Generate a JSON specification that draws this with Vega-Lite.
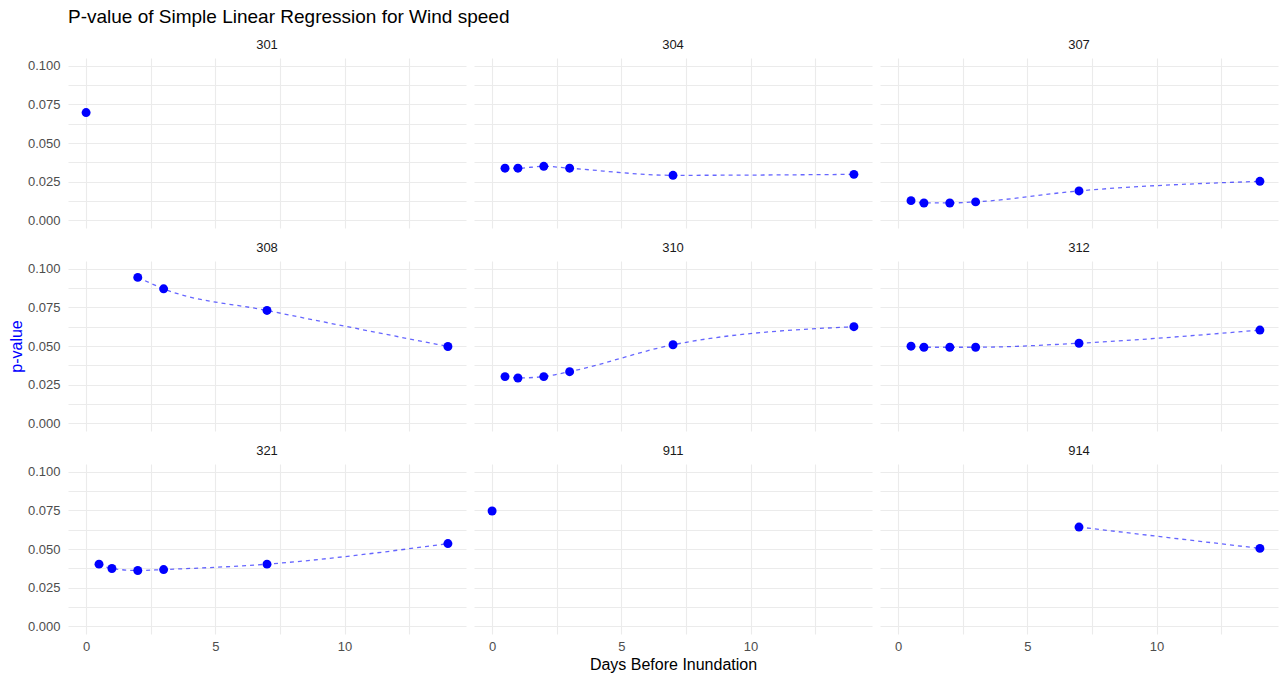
{
  "$schema": "https://vega.github.io/schema/vega-lite/v6.json",
  "background": "white",
  "padding": {"left": 8, "top": 8, "right": 8, "bottom": 4},
  "title": {
    "text": "P-value of Simple Linear Regression for Wind speed",
    "anchor": "start",
    "font": "Liberation Sans",
    "fontSize": 19,
    "fontWeight": "normal",
    "color": "#000000",
    "offset": 12,
    "dx": 0
  },
  "data": {
    "values": [
      {"station": "301", "days": 0, "p": 0.0697},
      {"station": "304", "days": 0.5, "p": 0.0337},
      {"station": "304", "days": 1, "p": 0.0337},
      {"station": "304", "days": 2, "p": 0.0349},
      {"station": "304", "days": 3, "p": 0.0337},
      {"station": "304", "days": 7, "p": 0.0291},
      {"station": "304", "days": 14, "p": 0.0297},
      {"station": "307", "days": 0.5, "p": 0.0127},
      {"station": "307", "days": 1, "p": 0.0112},
      {"station": "307", "days": 2, "p": 0.0112},
      {"station": "307", "days": 3, "p": 0.0119},
      {"station": "307", "days": 7, "p": 0.019},
      {"station": "307", "days": 14, "p": 0.0252},
      {"station": "308", "days": 2, "p": 0.0944},
      {"station": "308", "days": 3, "p": 0.087},
      {"station": "308", "days": 7, "p": 0.073},
      {"station": "308", "days": 14, "p": 0.0497},
      {"station": "310", "days": 0.5, "p": 0.0302},
      {"station": "310", "days": 1, "p": 0.0293},
      {"station": "310", "days": 2, "p": 0.0302},
      {"station": "310", "days": 3, "p": 0.0334},
      {"station": "310", "days": 7, "p": 0.0508},
      {"station": "310", "days": 14, "p": 0.0625},
      {"station": "312", "days": 0.5, "p": 0.0499},
      {"station": "312", "days": 1, "p": 0.0492},
      {"station": "312", "days": 2, "p": 0.0492},
      {"station": "312", "days": 3, "p": 0.0492},
      {"station": "312", "days": 7, "p": 0.0518},
      {"station": "312", "days": 14, "p": 0.0603},
      {"station": "321", "days": 0.5, "p": 0.0402},
      {"station": "321", "days": 1, "p": 0.0374},
      {"station": "321", "days": 2, "p": 0.0361},
      {"station": "321", "days": 3, "p": 0.0367},
      {"station": "321", "days": 7, "p": 0.0402},
      {"station": "321", "days": 14, "p": 0.0535},
      {"station": "911", "days": 0, "p": 0.0746},
      {"station": "914", "days": 7, "p": 0.0642},
      {"station": "914", "days": 14, "p": 0.0504}
    ]
  },
  "columns": 3,
  "spacing": {"row": 14, "column": 8},
  "concat": [
    {
      "title": {"text": "301"},
      "width": 398, "height": 170,
      "transform": [{"filter": "datum.station === '301'"}],
      "encoding": {
        "x": {"field": "days", "type": "quantitative", "scale": {"domain": [-0.7, 14.7], "nice": false, "zero": false}, "axis": {"values": [0, 2.5, 5, 7.5, 10, 12.5], "labels": false, "title": null}},
        "y": {"field": "p", "type": "quantitative", "scale": {"domain": [-0.005, 0.105], "nice": false, "zero": false}, "axis": {"values": [0, 0.0125, 0.025, 0.0375, 0.05, 0.0625, 0.075, 0.0875, 0.1], "labelExpr": "round(datum.value * 1000) % 25 === 0 ? format(datum.value, '.3f') : ''", "title": null}}
      },
      "layer": [
        {"mark": {"type": "line", "interpolate": "monotone", "strokeDash": [4, 4], "strokeWidth": 1.3, "color": "#0000ff", "opacity": 0.6}},
        {"mark": {"type": "point", "filled": true, "size": 80, "color": "#0000ff", "opacity": 1}}
      ]
    },
    {
      "title": {"text": "304"},
      "width": 398, "height": 170,
      "transform": [{"filter": "datum.station === '304'"}],
      "encoding": {
        "x": {"field": "days", "type": "quantitative", "scale": {"domain": [-0.7, 14.7], "nice": false, "zero": false}, "axis": {"values": [0, 2.5, 5, 7.5, 10, 12.5], "labels": false, "title": null}},
        "y": {"field": "p", "type": "quantitative", "scale": {"domain": [-0.005, 0.105], "nice": false, "zero": false}, "axis": {"values": [0, 0.0125, 0.025, 0.0375, 0.05, 0.0625, 0.075, 0.0875, 0.1], "labels": false, "title": null}}
      },
      "layer": [
        {"mark": {"type": "line", "interpolate": "monotone", "strokeDash": [4, 4], "strokeWidth": 1.3, "color": "#0000ff", "opacity": 0.6}},
        {"mark": {"type": "point", "filled": true, "size": 80, "color": "#0000ff", "opacity": 1}}
      ]
    },
    {
      "title": {"text": "307"},
      "width": 398, "height": 170,
      "transform": [{"filter": "datum.station === '307'"}],
      "encoding": {
        "x": {"field": "days", "type": "quantitative", "scale": {"domain": [-0.7, 14.7], "nice": false, "zero": false}, "axis": {"values": [0, 2.5, 5, 7.5, 10, 12.5], "labels": false, "title": null}},
        "y": {"field": "p", "type": "quantitative", "scale": {"domain": [-0.005, 0.105], "nice": false, "zero": false}, "axis": {"values": [0, 0.0125, 0.025, 0.0375, 0.05, 0.0625, 0.075, 0.0875, 0.1], "labels": false, "title": null}}
      },
      "layer": [
        {"mark": {"type": "line", "interpolate": "monotone", "strokeDash": [4, 4], "strokeWidth": 1.3, "color": "#0000ff", "opacity": 0.6}},
        {"mark": {"type": "point", "filled": true, "size": 80, "color": "#0000ff", "opacity": 1}}
      ]
    },
    {
      "title": {"text": "308"},
      "width": 398, "height": 170,
      "transform": [{"filter": "datum.station === '308'"}],
      "encoding": {
        "x": {"field": "days", "type": "quantitative", "scale": {"domain": [-0.7, 14.7], "nice": false, "zero": false}, "axis": {"values": [0, 2.5, 5, 7.5, 10, 12.5], "labels": false, "title": null}},
        "y": {"field": "p", "type": "quantitative", "scale": {"domain": [-0.005, 0.105], "nice": false, "zero": false}, "axis": {"values": [0, 0.0125, 0.025, 0.0375, 0.05, 0.0625, 0.075, 0.0875, 0.1], "labelExpr": "round(datum.value * 1000) % 25 === 0 ? format(datum.value, '.3f') : ''", "title": "p-value", "titleColor": "#0000ff"}}
      },
      "layer": [
        {"mark": {"type": "line", "interpolate": "monotone", "strokeDash": [4, 4], "strokeWidth": 1.3, "color": "#0000ff", "opacity": 0.6}},
        {"mark": {"type": "point", "filled": true, "size": 80, "color": "#0000ff", "opacity": 1}}
      ]
    },
    {
      "title": {"text": "310"},
      "width": 398, "height": 170,
      "transform": [{"filter": "datum.station === '310'"}],
      "encoding": {
        "x": {"field": "days", "type": "quantitative", "scale": {"domain": [-0.7, 14.7], "nice": false, "zero": false}, "axis": {"values": [0, 2.5, 5, 7.5, 10, 12.5], "labels": false, "title": null}},
        "y": {"field": "p", "type": "quantitative", "scale": {"domain": [-0.005, 0.105], "nice": false, "zero": false}, "axis": {"values": [0, 0.0125, 0.025, 0.0375, 0.05, 0.0625, 0.075, 0.0875, 0.1], "labels": false, "title": null}}
      },
      "layer": [
        {"mark": {"type": "line", "interpolate": "monotone", "strokeDash": [4, 4], "strokeWidth": 1.3, "color": "#0000ff", "opacity": 0.6}},
        {"mark": {"type": "point", "filled": true, "size": 80, "color": "#0000ff", "opacity": 1}}
      ]
    },
    {
      "title": {"text": "312"},
      "width": 398, "height": 170,
      "transform": [{"filter": "datum.station === '312'"}],
      "encoding": {
        "x": {"field": "days", "type": "quantitative", "scale": {"domain": [-0.7, 14.7], "nice": false, "zero": false}, "axis": {"values": [0, 2.5, 5, 7.5, 10, 12.5], "labels": false, "title": null}},
        "y": {"field": "p", "type": "quantitative", "scale": {"domain": [-0.005, 0.105], "nice": false, "zero": false}, "axis": {"values": [0, 0.0125, 0.025, 0.0375, 0.05, 0.0625, 0.075, 0.0875, 0.1], "labels": false, "title": null}}
      },
      "layer": [
        {"mark": {"type": "line", "interpolate": "monotone", "strokeDash": [4, 4], "strokeWidth": 1.3, "color": "#0000ff", "opacity": 0.6}},
        {"mark": {"type": "point", "filled": true, "size": 80, "color": "#0000ff", "opacity": 1}}
      ]
    },
    {
      "title": {"text": "321"},
      "width": 398, "height": 170,
      "transform": [{"filter": "datum.station === '321'"}],
      "encoding": {
        "x": {"field": "days", "type": "quantitative", "scale": {"domain": [-0.7, 14.7], "nice": false, "zero": false}, "axis": {"values": [0, 2.5, 5, 7.5, 10, 12.5], "labelExpr": "datum.value % 5 === 0 ? datum.label : ''", "title": null}},
        "y": {"field": "p", "type": "quantitative", "scale": {"domain": [-0.005, 0.105], "nice": false, "zero": false}, "axis": {"values": [0, 0.0125, 0.025, 0.0375, 0.05, 0.0625, 0.075, 0.0875, 0.1], "labelExpr": "round(datum.value * 1000) % 25 === 0 ? format(datum.value, '.3f') : ''", "title": null}}
      },
      "layer": [
        {"mark": {"type": "line", "interpolate": "monotone", "strokeDash": [4, 4], "strokeWidth": 1.3, "color": "#0000ff", "opacity": 0.6}},
        {"mark": {"type": "point", "filled": true, "size": 80, "color": "#0000ff", "opacity": 1}}
      ]
    },
    {
      "title": {"text": "911"},
      "width": 398, "height": 170,
      "transform": [{"filter": "datum.station === '911'"}],
      "encoding": {
        "x": {"field": "days", "type": "quantitative", "scale": {"domain": [-0.7, 14.7], "nice": false, "zero": false}, "axis": {"values": [0, 2.5, 5, 7.5, 10, 12.5], "labelExpr": "datum.value % 5 === 0 ? datum.label : ''", "title": "Days Before Inundation"}},
        "y": {"field": "p", "type": "quantitative", "scale": {"domain": [-0.005, 0.105], "nice": false, "zero": false}, "axis": {"values": [0, 0.0125, 0.025, 0.0375, 0.05, 0.0625, 0.075, 0.0875, 0.1], "labels": false, "title": null}}
      },
      "layer": [
        {"mark": {"type": "line", "interpolate": "monotone", "strokeDash": [4, 4], "strokeWidth": 1.3, "color": "#0000ff", "opacity": 0.6}},
        {"mark": {"type": "point", "filled": true, "size": 80, "color": "#0000ff", "opacity": 1}}
      ]
    },
    {
      "title": {"text": "914"},
      "width": 398, "height": 170,
      "transform": [{"filter": "datum.station === '914'"}],
      "encoding": {
        "x": {"field": "days", "type": "quantitative", "scale": {"domain": [-0.7, 14.7], "nice": false, "zero": false}, "axis": {"values": [0, 2.5, 5, 7.5, 10, 12.5], "labelExpr": "datum.value % 5 === 0 ? datum.label : ''", "title": null}},
        "y": {"field": "p", "type": "quantitative", "scale": {"domain": [-0.005, 0.105], "nice": false, "zero": false}, "axis": {"values": [0, 0.0125, 0.025, 0.0375, 0.05, 0.0625, 0.075, 0.0875, 0.1], "labels": false, "title": null}}
      },
      "layer": [
        {"mark": {"type": "line", "interpolate": "monotone", "strokeDash": [4, 4], "strokeWidth": 1.3, "color": "#0000ff", "opacity": 0.6}},
        {"mark": {"type": "point", "filled": true, "size": 80, "color": "#0000ff", "opacity": 1}}
      ]
    }
  ],
  "config": {
    "font": "Liberation Sans",
    "view": {"stroke": null},
    "axis": {
      "domain": false,
      "ticks": false,
      "grid": true,
      "gridColor": "#ebebeb",
      "gridWidth": 1.1,
      "labelFont": "Liberation Sans",
      "labelFontSize": 13,
      "labelColor": "#4d4d4d",
      "titleFont": "Liberation Sans",
      "titleFontSize": 16,
      "titleFontWeight": "normal",
      "titleColor": "#000000"
    },
    "axisX": {"labelPadding": 6, "titlePadding": 3},
    "axisY": {"labelPadding": 8, "titlePadding": 3},
    "title": {
      "font": "Liberation Sans",
      "fontSize": 13,
      "fontWeight": "normal",
      "color": "#1a1a1a",
      "anchor": "middle",
      "frame": "group",
      "offset": 6,
      "baseline": "alphabetic"
    }
  }
}
